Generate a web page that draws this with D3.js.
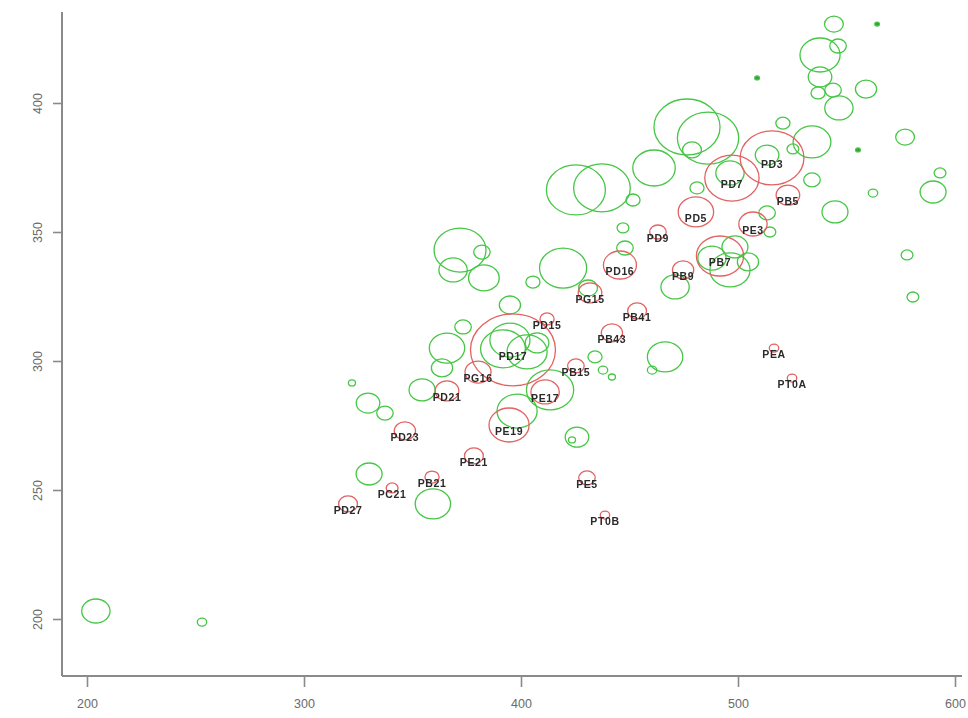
<!DOCTYPE html>
<html>
<head>
<meta charset="utf-8">
<script src="https://cdn.jsdelivr.net/npm/d3@7"></script>
<style>
  html, body { margin: 0; padding: 0; background: #fff; }
  svg { display: block; }
</style>
</head>
<body>
<div id="chart"></div>
<script>
// ---- data ----
const xTicks = [200, 300, 400, 500, 600];
const yTicks = [200, 250, 300, 350, 400];

// green bubbles: [x, y, size]
const greenX = [204.1,253.0,322.1,329.5,337.3,330.0,359.4,425.8,423.5,354.4,363.6,365.9,373.3,394.9,371.9,368.7,382.9,382.0,391.7,402.8,407.4,394.9,413.4,398.2,434.1,437.8,441.9,466.4,460.4,419.4,405.5,430.9,447.0,447.9,425.3,437.3,451.6,461.3,476.5,486.2,478.8,481.1,496.3,513.4,544.2,564.1,537.8,546.1,537.8,543.8,536.9,546.5,559.0,508.8,520.7,534.1,577.0,555.3,593.1,562.2,589.9,534.1,498.6,513.4,544.7,577.9,580.6,471.0,496.3,514.7,504.6,525.3,488.0];
const greenY = [203.1,198.8,291.5,283.7,279.8,256.2,244.6,270.5,269.4,288.8,297.3,305.0,313.2,321.7,343.0,335.3,332.2,342.2,304.7,303.5,307.0,308.1,288.8,280.6,301.6,296.5,293.8,301.6,296.5,336.0,330.6,328.3,351.6,343.8,366.3,367.1,362.4,374.8,390.7,386.4,381.8,367.1,372.9,379.8,430.6,430.6,418.6,422.1,410.1,405.0,403.9,398.1,405.4,409.7,392.2,384.9,386.8,381.8,372.9,365.1,365.5,370.2,344.2,357.4,357.8,341.1,324.8,328.7,335.3,350.0,338.4,382.2,339.9];
const greenS = [12,4,3,10,7,11,15,10,3,11,9,15,7,9,22,12,13,7,19,17,10,17,20,17,6,4,3,15,4,20,6,8,5,7,25,24,6,18,28,26,8,6,12,10,8,2,17,7,10,7,6,12,9,2,6,16,8,2,5,4,11,7,11,7,11,5,5,12,17,5,9,5,12];

// red labelled bubbles
const redLabels = ["PD27","PC21","PB21","PE21","PD23","PD21","PG16","PD17","PD15","PG15","PD16","PB41","PB43","PB15","PE17","PE19","PE5","PT0B","PEA","PT0A","PD9","PB9","PD5","PB7","PD7","PD3","PB5","PE3"];
const redX = [320.3,340.6,359.0,378.3,346.5,365.9,380.2,396.3,412.0,431.8,445.6,453.5,441.9,425.3,411.1,394.5,430.4,438.7,516.6,524.9,463.1,474.7,480.6,491.7,497.2,515.7,523.0,506.9];
const redY = [244.6,250.8,255.0,263.2,272.9,288.4,295.7,304.3,316.3,326.4,337.2,319.4,310.9,298.1,288.0,275.2,254.7,240.3,305.0,293.4,350.0,335.3,357.8,340.7,370.9,378.7,364.3,353.1];
const redS = [8,5,6,8,9,10,11,36,6,10,14,8,9,7,12,17,7,4,4,4,7,9,15,20,23,27,10,12];

// ---- layout ----
const W = 968, H = 718;
const svg = d3.select("#chart").append("svg").attr("width", W).attr("height", H);

const x = d3.scaleLinear().domain([200, 600]).range([87, 955]);
const y = d3.scaleLinear().domain([200, 400]).range([619, 103]);
const ry = d3.scaleLinear().domain([0, 40]).range([0, 40]);
const aspect = 1.18;

const axisColor = "#8a8a8a";
const frameLeft = 62, frameBottom = 676, frameTop = 12, frameRight = 962;

// axes lines
svg.append("line").attr("x1", frameLeft).attr("x2", frameLeft).attr("y1", frameTop).attr("y2", frameBottom)
  .attr("stroke", axisColor).attr("stroke-width", 2);
svg.append("line").attr("x1", frameLeft).attr("x2", frameRight).attr("y1", frameBottom).attr("y2", frameBottom)
  .attr("stroke", axisColor).attr("stroke-width", 2);

const xAxis = svg.append("g").attr("transform", `translate(0,${frameBottom})`)
  .call(d3.axisBottom(x).tickValues(xTicks).tickSize(11).tickSizeOuter(0).tickPadding(12));
const yAxis = svg.append("g").attr("transform", `translate(${frameLeft},0)`)
  .call(d3.axisLeft(y).tickValues(yTicks).tickSize(9).tickSizeOuter(0).tickPadding(10));
[xAxis, yAxis].forEach(g => {
  g.select(".domain").remove();
  g.selectAll(".tick line").attr("stroke", axisColor).attr("stroke-width", 1.6);
  g.selectAll(".tick text").attr("fill", "#6a6a6a").attr("font-family", "Liberation Sans, Arial, sans-serif").attr("font-size", 12.5);
});
yAxis.selectAll(".tick text")
  .attr("text-anchor", "middle")
  .attr("x", null).attr("dy", null)
  .attr("transform", "translate(-23,0) rotate(-90)")
  .attr("dominant-baseline", "middle");

// blur to soften like the reference
const defs = svg.append("defs");
defs.append("filter").attr("id", "soft").append("feGaussianBlur").attr("stdDeviation", 0.4);

const plot = svg.append("g").attr("filter", "url(#soft)");

const greens = greenX.map((v, i) => ({x: greenX[i], y: greenY[i], s: greenS[i]}));
const reds = redX.map((v, i) => ({x: redX[i], y: redY[i], s: redS[i], label: redLabels[i]}));

plot.selectAll("ellipse.g").data(greens).join("ellipse")
  .attr("class", "g")
  .attr("cx", d => x(d.x)).attr("cy", d => y(d.y))
  .attr("rx", d => ry(d.s) * aspect).attr("ry", d => ry(d.s))
  .attr("fill", d => d.s <= 2 ? "#3a9a3a" : "none")
  .attr("stroke", "#46c646").attr("stroke-width", 1.3);

plot.selectAll("ellipse.r").data(reds).join("ellipse")
  .attr("class", "r")
  .attr("cx", d => x(d.x)).attr("cy", d => y(d.y))
  .attr("rx", d => ry(d.s) * aspect).attr("ry", d => ry(d.s))
  .attr("fill", "none")
  .attr("stroke", "#e26262").attr("stroke-width", 1.3);

plot.selectAll("text.lab").data(reds).join("text")
  .attr("class", "lab")
  .attr("x", d => x(d.x)).attr("y", d => y(d.y) + 7)
  .attr("text-anchor", "middle").attr("dominant-baseline", "middle")
  .attr("font-family", "Liberation Sans, Arial, sans-serif")
  .attr("font-size", 10.5).attr("font-weight", "bold").attr("letter-spacing", 0.6)
  .attr("fill", "#2a2a2a")
  .text(d => d.label);
</script>
</body>
</html>
